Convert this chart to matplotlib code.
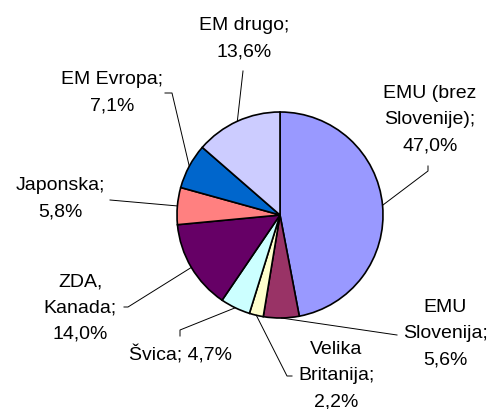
import numpy as np
import matplotlib
matplotlib.use("Agg")
from matplotlib import pyplot as plt

# podatki
names = ["EMU (brez\nSlovenije)", "EMU\nSlovenija", "Velika\nBritanija", "Švica",
         "ZDA,\nKanada", "Japonska", "EM Evropa", "EM drugo"]
values = [47.0, 5.6, 2.2, 4.7, 14.0, 5.8, 7.1, 13.6]
seps = [";\n", ";\n", ";\n", "; ", ";\n", ";\n", ";\n", ";\n"]
colors = ["#9999FF", "#993366", "#FFFFCC", "#CCFFFF", "#660066", "#FF8080", "#0066CC", "#CCCCFF"]

# postavitev nalepk (px, od zgoraj levo)
text_pos = [(430, 120), (445, 334), (336, 376), (180, 355), (80, 308), (60, 199), (112, 93), (244, 39)]
leader_start = [[(428, 167), (428, 172)], [(397, 336)], [(292, 377), (287, 377)], [(180, 337), (180, 331)],
                [(124, 308), (128, 308)], [(110, 201)], [(165, 94), (172, 94)], [(243, 72)]]

W, H = 495, 410
cx, cy, r = 280, 216, 103

plt.rcParams['font.family'] = ['Liberation Sans', 'DejaVu Sans']
fig = plt.figure(figsize=(4.95, 4.1), dpi=100)
ax = fig.add_axes([0, 0, 1, 1])

ax.pie(values, colors=colors, startangle=90, counterclock=False,
       center=(cx, H - cy), radius=r,
       wedgeprops=dict(edgecolor="black", linewidth=1.2))
ax.set_xlim(0, W)
ax.set_ylim(0, H)
ax.axis("off")

cum = np.cumsum(values)
total = cum[-1]
for i in range(len(values)):
    mid = (cum[i] - values[i] / 2) / total * 2 * np.pi  # kot od vrha v smeri urinega kazalca
    ex = cx + r * np.sin(mid)
    ey = cy - r * np.cos(mid)
    pts = leader_start[i] + [(ex, ey)]
    ax.plot([p[0] for p in pts], [H - p[1] for p in pts], color="black", lw=0.7)
    label = names[i] + seps[i] + f"{values[i]:.1f}".replace(".", ",") + "%"
    tx, ty = text_pos[i]
    ax.text(tx, H - ty, label, ha="center", va="center", fontsize=14,
            linespacing=1.7, multialignment="center")

plt.savefig("out.png", dpi=100)
